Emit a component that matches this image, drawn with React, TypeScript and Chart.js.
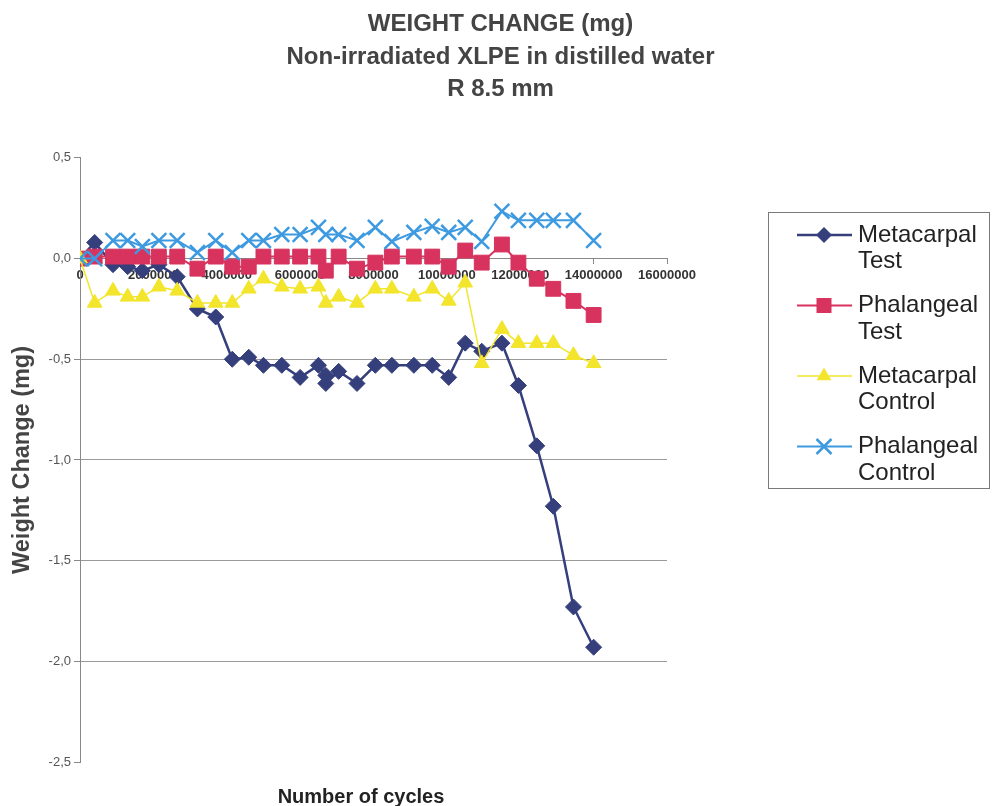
import React, { useEffect, useRef } from 'react';
import { Chart, registerables } from 'chart.js';

Chart.register(...registerables);

const FONT = '"Liberation Sans", Arial, sans-serif';

// Number of cycles
const cyclesMetacarpalTest = [0, 400000, 900000, 1300000, 1700000, 2150000, 2650000, 3200000, 3700000, 4150000, 4600000, 5000000, 5500000, 6000000, 6500000, 6700000, 6700000, 7050000, 7550000, 8050000, 8500000, 9100000, 9600000, 10050000, 10500000, 10950000, 11500000, 11950000, 12450000, 12900000, 13450000, 14000000];
const cycles = [0, 400000, 900000, 1300000, 1700000, 2150000, 2650000, 3200000, 3700000, 4150000, 4600000, 5000000, 5500000, 6000000, 6500000, 6700000, 7050000, 7550000, 8050000, 8500000, 9100000, 9600000, 10050000, 10500000, 10950000, 11500000, 11950000, 12450000, 12900000, 13450000, 14000000];

// Weight change (mg)
const metacarpalTest = [0, 0.08, -0.03, -0.04, -0.06, -0.03, -0.09, -0.25, -0.29, -0.50, -0.49, -0.53, -0.53, -0.59, -0.53, -0.58, -0.62, -0.56, -0.62, -0.53, -0.53, -0.53, -0.53, -0.59, -0.42, -0.46, -0.42, -0.63, -0.93, -1.23, -1.73, -1.93];
const phalangealTest = [0, 0.01, 0.01, 0.01, 0.01, 0.01, 0.01, -0.05, 0.01, -0.04, -0.04, 0.01, 0.01, 0.01, 0.01, -0.06, 0.01, -0.05, -0.02, 0.01, 0.01, 0.01, -0.04, 0.04, -0.02, 0.07, -0.02, -0.10, -0.15, -0.21, -0.28];
const metacarpalControl = [0, -0.22, -0.16, -0.19, -0.19, -0.14, -0.16, -0.22, -0.22, -0.22, -0.15, -0.10, -0.14, -0.15, -0.14, -0.22, -0.19, -0.22, -0.15, -0.15, -0.19, -0.15, -0.21, -0.12, -0.52, -0.35, -0.42, -0.42, -0.42, -0.48, -0.52];
const phalangealControl = [0, 0.0, 0.09, 0.09, 0.06, 0.09, 0.09, 0.03, 0.09, 0.03, 0.09, 0.09, 0.12, 0.12, 0.155, 0.12, 0.12, 0.09, 0.155, 0.085, 0.13, 0.16, 0.13, 0.155, 0.085, 0.235, 0.19, 0.19, 0.19, 0.19, 0.09];

const seriesLabels = ['Metacarpal Test', 'Phalangeal Test', 'Metacarpal Control', 'Phalangeal Control'];
const seriesColors = ['#343f7c', '#d7335e', '#f2e52c', '#3d9ae0'];

const titleLines = ['WEIGHT CHANGE (mg)', 'Non-irradiated XLPE in distilled water', 'R 8.5 mm'];
const xAxisTitle = 'Number of cycles';
const yAxisTitle = 'Weight Change (mg)';

const pts = (xs: number[], ys: number[]) => xs.map((x, i) => ({ x, y: ys[i] }));

function drawMarker(ctx: CanvasRenderingContext2D, style: string, x: number, y: number, color: string) {
  ctx.save();
  ctx.fillStyle = color;
  ctx.strokeStyle = color;
  ctx.beginPath();
  if (style === 'rectRot') {
    const r = 8;
    ctx.moveTo(x, y - r); ctx.lineTo(x + r, y); ctx.lineTo(x, y + r); ctx.lineTo(x - r, y); ctx.closePath();
    ctx.fill();
  } else if (style === 'rect') {
    const s = 7.5;
    ctx.rect(x - s, y - s, 2 * s, 2 * s);
    ctx.fill();
  } else if (style === 'triangle') {
    const r = 8.5;
    ctx.moveTo(x, y - r);
    ctx.lineTo(x + r * Math.sin(2 * Math.PI / 3), y - r * Math.cos(2 * Math.PI / 3));
    ctx.lineTo(x + r * Math.sin(4 * Math.PI / 3), y - r * Math.cos(4 * Math.PI / 3));
    ctx.closePath();
    ctx.fill();
  } else {
    const r = 7.5;
    ctx.lineWidth = 2.5;
    ctx.moveTo(x - r, y - r); ctx.lineTo(x + r, y + r);
    ctx.moveTo(x + r, y - r); ctx.lineTo(x - r, y + r);
    ctx.stroke();
  }
  ctx.restore();
}

const overlayPlugin = {
  id: 'overlay',
  afterDraw(chart: any) {
    const ctx = chart.ctx as CanvasRenderingContext2D;
    ctx.save();
    // legend box
    ctx.strokeStyle = '#7a7a7a';
    ctx.lineWidth = 1;
    ctx.strokeRect(768.5, 212.5, 221, 276);
    const ds = chart.data.datasets;
    ds.forEach((d: any, i: number) => {
      const y = 235 + i * 70.5;
      ctx.strokeStyle = d.borderColor;
      ctx.lineWidth = d.borderWidth;
      ctx.beginPath();
      ctx.moveTo(797, y);
      ctx.lineTo(852, y);
      ctx.stroke();
      drawMarker(ctx, d.pointStyle, 824, y, d.borderColor);
      ctx.fillStyle = '#222';
      ctx.font = `24px ${FONT}`;
      ctx.textAlign = 'left';
      ctx.textBaseline = 'middle';
      String(d.label).split(' ').forEach((t: string, j: number) => {
        ctx.fillText(t, 858, y + j * 26.7);
      });
    });
    // x axis title
    ctx.fillStyle = '#222';
    ctx.font = `bold 20px ${FONT}`;
    ctx.textAlign = 'center';
    ctx.textBaseline = 'middle';
    ctx.fillText(xAxisTitle, 361, 797);
    ctx.restore();
  },
};

export default function App() {
  const ref = useRef<HTMLCanvasElement | null>(null);
  useEffect(() => {
    if (!ref.current) return;
    const styles = ['rectRot', 'rect', 'triangle', 'crossRot'];
    const data = [pts(cyclesMetacarpalTest, metacarpalTest), pts(cycles, phalangealTest), pts(cycles, metacarpalControl), pts(cycles, phalangealControl)];
    const widths = [2.5, 2, 1.5, 2];
    const radii = [8, 10.5, 8.5, 10.5];
    const orders = [3, 2, 1, 0];
    const chart = new Chart(ref.current, {
      type: 'line',
      data: {
        datasets: seriesLabels.map((label, i) => ({
          label,
          data: data[i],
          borderColor: seriesColors[i],
          backgroundColor: seriesColors[i],
          borderWidth: widths[i],
          pointStyle: styles[i],
          pointRadius: radii[i],
          pointBorderWidth: i === 3 ? 2.5 : 1,
          pointBackgroundColor: seriesColors[i],
          pointBorderColor: seriesColors[i],
          tension: 0,
          fill: false,
          order: orders[i],
        })) as any,
      },
      options: {
        responsive: false,
        animation: false,
        devicePixelRatio: 1,
        layout: { padding: { left: 8, right: 0, top: 0, bottom: 44 } },
        plugins: {
          legend: { display: false },
          tooltip: { enabled: false },
          title: {
            display: true,
            text: titleLines,
            color: '#444',
            font: { family: FONT, size: 24, weight: 'bold', lineHeight: 1.36 },
            padding: { top: 8, bottom: 52 },
          },
        },
        scales: {
          x: {
            type: 'linear',
            min: 0,
            max: 16000000,
            position: { y: 0 } as any,
            ticks: {
              stepSize: 2000000,
              autoSkip: false,
              maxRotation: 0,
              color: '#333',
              font: { family: FONT, size: 13, weight: 'bold' },
              padding: 4,
              callback: (v: any) => String(v),
            },
            grid: { drawOnChartArea: false, drawTicks: true, tickLength: 5, color: '#888' },
            border: { color: '#888', width: 1 },
          },
          y: {
            type: 'linear',
            min: -2.5,
            max: 0.5,
            ticks: {
              stepSize: 0.5,
              color: '#555',
              font: { family: FONT, size: 13 },
              padding: 3,
              callback: (v: any) => Number(v).toFixed(1).replace('.', ','),
            },
            grid: {
              color: (c: any) => {
                const v = c.tick ? c.tick.value : 0;
                return v < -0.25 && v > -2.25 ? '#9a9a9a' : 'rgba(0,0,0,0)';
              },
              tickColor: '#888',
              tickLength: 6,
            },
            border: { color: '#888', width: 1 },
            title: {
              display: true,
              text: yAxisTitle,
              color: '#444',
              font: { family: FONT, size: 23.5, weight: 'bold' },
              padding: 0,
            },
            afterFit: (s: any) => { s.width = 72; },
          },
          legendSpace: {
            type: 'linear',
            position: 'right',
            display: true,
            ticks: { display: false },
            grid: { display: false, drawTicks: false },
            border: { display: false },
            afterFit: (s: any) => { s.width = 326; },
          },
        },
      },
      plugins: [overlayPlugin],
    });
    return () => chart.destroy();
  }, []);
  return (
    <div style={{ position: 'absolute', left: 0, top: 0, width: 993, height: 806, background: '#fff' }}>
      <canvas ref={ref} width={993} height={806} style={{ display: 'block' }} />
    </div>
  );
}
